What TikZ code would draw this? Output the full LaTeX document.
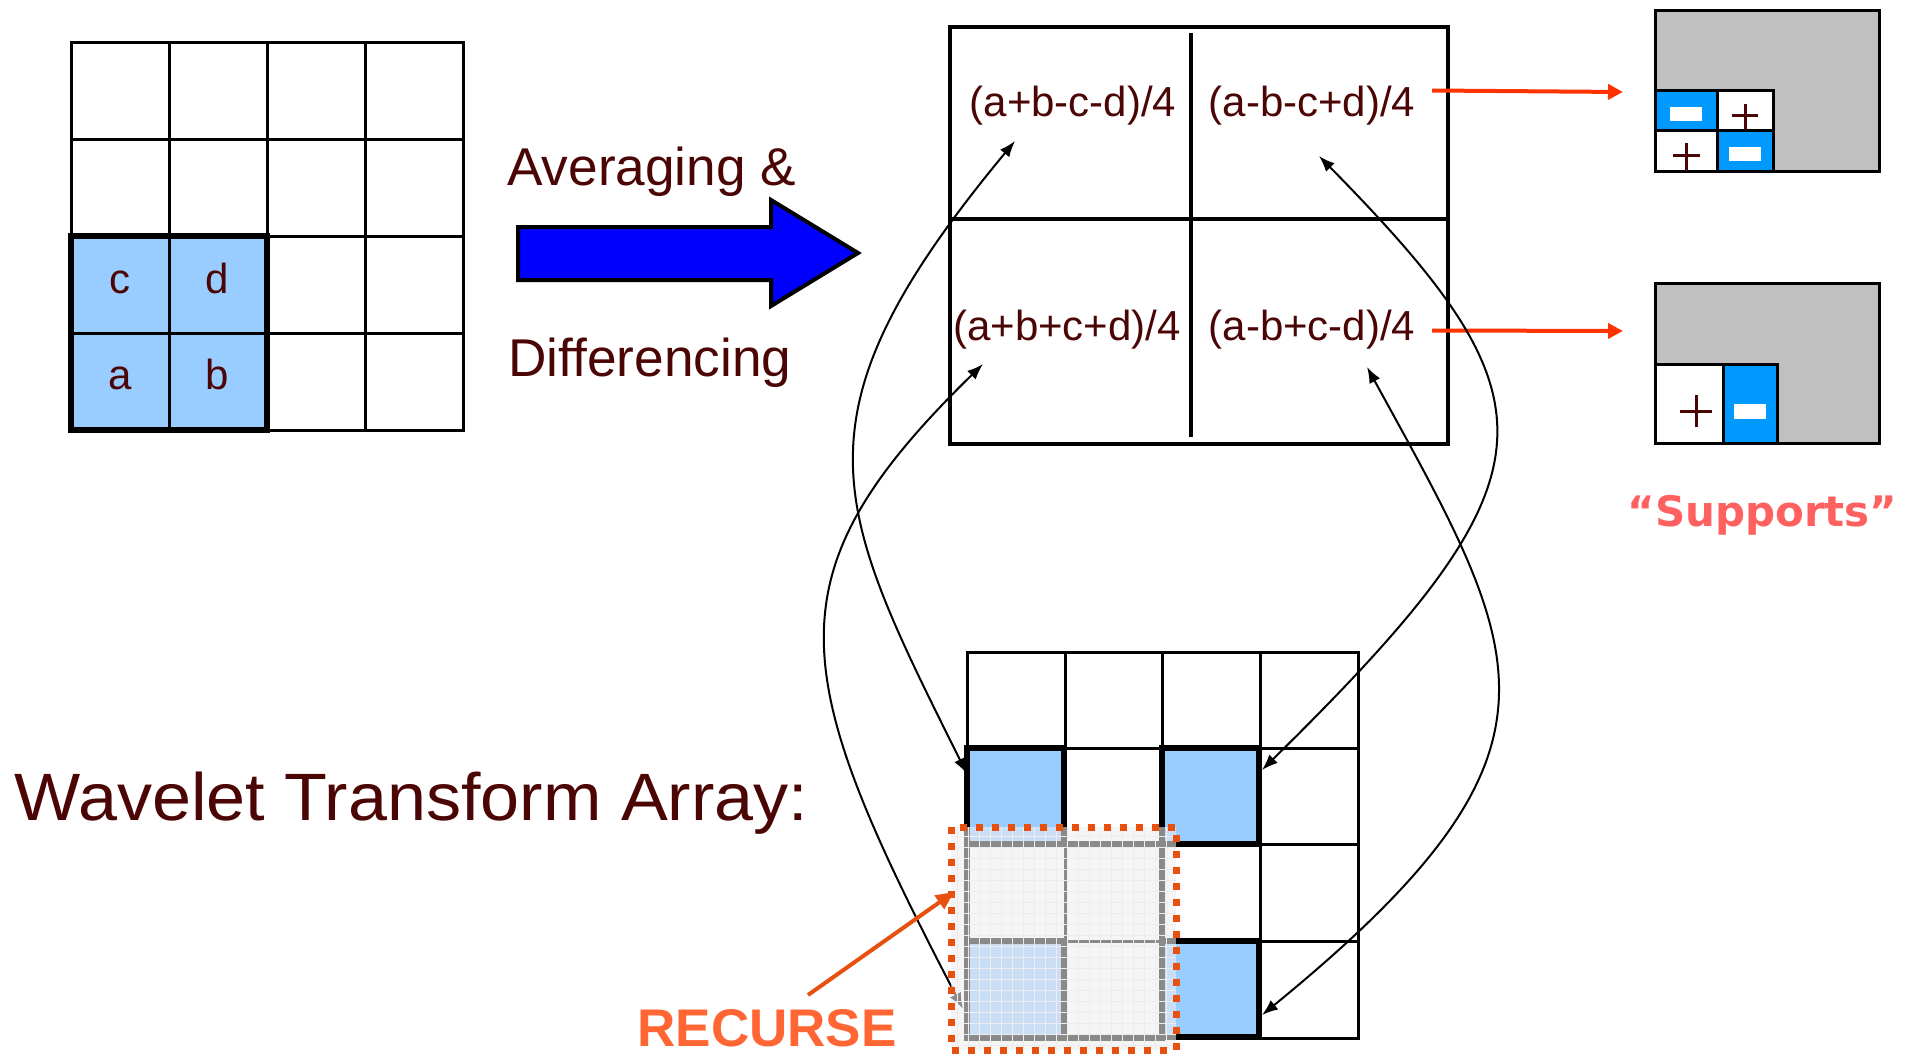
\documentclass[tikz,border=0pt]{standalone}
\usepackage{fontspec}
\setmainfont{Liberation Sans}
\newfontfamily\supfont{DejaVu Sans}
\usetikzlibrary{arrows.meta}

\definecolor{ink}{RGB}{75,5,5}
\definecolor{cellblue}{RGB}{153,204,255}
\definecolor{supblue}{RGB}{0,153,255}
\definecolor{supgray}{RGB}{192,192,192}
\definecolor{bigblue}{RGB}{0,0,255}
\definecolor{linkred}{RGB}{255,51,0}
\definecolor{recorange}{RGB}{232,80,16}
\definecolor{rectext}{RGB}{255,102,51}
\definecolor{suptext}{RGB}{255,96,96}
\definecolor{haze}{RGB}{238,238,238}

\begin{document}
\begin{tikzpicture}[x=0.5pt,y=-0.5pt,
  thinline/.style={line width=1.5pt,line cap=rect},
  blockline/.style={line width=3.2pt,line cap=rect},
  boxline/.style={line width=2pt},
  suprule/.style={line width=1.5pt},
  txt/.style={inner sep=0pt,text=ink,font=\fontsize{21pt}{25pt}\selectfont},
  bigtxt/.style={inner sep=0pt,text=ink,font=\fontsize{26.6pt}{31pt}\selectfont},
  link/.style={line width=1pt,{Latex[length=8pt,width=6pt]}-{Latex[length=8pt,width=6pt]}},
  feed/.style={linkred,line width=2pt,-{Triangle[length=7.5pt,width=7.5pt]}},
  plusmark/.style={ink,line width=1.5pt},
  minusbar/.style={fill=white}]

\useasboundingbox (0,0) rectangle (1906,1054);
\fill[white] (0,0) rectangle (1906,1054);

% ---------- source 4x4 array ----------
\fill[cellblue] (71,236) rectangle (267,430);
\foreach \x in {71,169,267,365,463} \draw[thinline] (\x,43) -- (\x,430);
\foreach \y in {43,140,236,333,430} \draw[thinline] (71,\y) -- (463,\y);
\draw[blockline] (71,236) rectangle (267,430);
\node[txt,anchor=base] (lc) at (120,293) {c};
\node[txt,anchor=base] (ld) at (217,293) {d};
\node[txt,anchor=base] (la) at (120,389) {a};
\node[txt,anchor=base] (lb) at (217,389) {b};

% ---------- transform arrow ----------
\node[bigtxt,anchor=base west] (avg) at (507,185) {Averaging \&};
\node[bigtxt,anchor=base west] (dif) at (508,376) {Differencing};
\draw[line width=2pt,fill=bigblue,line join=miter]
  (518,227) -- (771,227) -- (771,200) -- (858,253) -- (771,306) -- (771,280) -- (518,280) -- cycle;

% ---------- coefficient box ----------
\draw[boxline] (950,27) rectangle (1448,444);
\draw[boxline] (950,219) -- (1448,219);
\draw[boxline] (1191,33) -- (1191,437);
\node[txt,anchor=base] (tl) at (1073,117) {(a+b-c-d)/4};
\node[txt,anchor=base] (tr) at (1312,117) {(a-b-c+d)/4};
\node[txt,anchor=base] (bl) at (1067,340) {(a+b+c+d)/4};
\node[txt,anchor=base] (br) at (1312,340) {(a-b+c-d)/4};

% ---------- supports ----------
\draw[suprule,fill=supgray] (1655,11) rectangle (1879,171);
\draw[suprule,fill=supblue] (1655,91) rectangle (1717,131);
\draw[suprule,fill=white] (1717,91) rectangle (1773,131);
\draw[suprule,fill=white] (1655,131) rectangle (1717,171);
\draw[suprule,fill=supblue] (1717,131) rectangle (1773,171);
\fill[minusbar] (1670,107) rectangle (1702,121);
\fill[minusbar] (1729,147) rectangle (1761,161);
\draw[plusmark] (1732,116) -- (1758,116) (1745,104) -- (1745,130);
\draw[plusmark] (1673,156) -- (1700,156) (1686,143) -- (1686,171);

\draw[suprule,fill=supgray] (1655,283) rectangle (1879,443);
\draw[suprule,fill=white] (1655,364) rectangle (1723,443);
\draw[suprule,fill=supblue] (1723,364) rectangle (1777,443);
\fill[minusbar] (1734,404) rectangle (1766,419);
\draw[plusmark] (1680,411) -- (1712,411) (1696,395) -- (1696,427);

\node[inner sep=0pt,anchor=base west,text=suptext,
      font=\supfont\bfseries\fontsize{21pt}{25pt}\selectfont] (sup) at (1627,526) {“Supports”};

\coordinate (trout) at (1432,90.5);
\coordinate (supA) at (1623,92);
\coordinate (brout) at (1432,330.5);
\coordinate (supB) at (1623,331);
\draw[feed] (trout) -- (supA);
\draw[feed] (brout) -- (supB);

% ---------- wavelet transform array ----------
\node[inner sep=0pt,anchor=base west,text=ink,
      font=\fontsize{33.5pt}{40pt}\selectfont] (wta) at (14,820) {\scalebox{1.047}[1]{Wavelet Transform Array:}};

\foreach \c/\r in {967/748,1162/748,1162/941,967/941}
  \fill[cellblue] (\c,\r) rectangle ++(97,96);
\foreach \x in {967,1065,1162,1260,1358} \draw[thinline] (\x,652) -- (\x,1038);
\foreach \y in {652,748,844,941,1038} \draw[thinline] (967,\y) -- (1358,\y);
\foreach \c/\r in {967/748,1162/748,1162/941,967/941}
  \draw[blockline] (\c,\r) rectangle ++(97,96);
\draw[blockline] (967,844) rectangle (1162,1038);

% arrows tying each coefficient to its slot
\coordinate (tlin) at (1015,141);
\coordinate (blin) at (983,364);
\coordinate (trin) at (1319,156);
\coordinate (brin) at (1367,367);
\coordinate (slotTL) at (967,774);
\coordinate (slotBL) at (963,1009);
\coordinate (slotTR) at (1262,770);
\coordinate (slotBR) at (1262,1015);
\draw[link] (tlin) .. controls (786,417) and (833,505) .. (slotTL);
\draw[link] (blin) .. controls (766,576) and (788,673) .. (slotBL);
\draw[link] (trin) .. controls (1562,403) and (1562,475) .. (slotTR);
\draw[link] (brin) .. controls (1526,657) and (1588,749) .. (slotBR);

% recursion region
\fill[haze,opacity=0.58] (951,827) rectangle (1176,1050);
\begin{scope}
  \clip (951,827) rectangle (1176,1050);
  \draw[line width=0.5pt,black!7,step=5.5pt] (940,820) grid (1190,1060);
\end{scope}
\draw[recorange,line width=3.5pt,dash pattern=on 3.5pt off 4.5pt] (951,827) rectangle (1176,1050);

\node[inner sep=0pt,anchor=base west,text=rectext,
      font=\bfseries\fontsize{26.5pt}{31pt}\selectfont] (rec) at (637,1046) {RECURSE};
\coordinate (recfrom) at (808,995);
\coordinate (recto) at (954,892);
\draw[recorange,line width=2pt,-{Triangle[length=9pt,width=8pt]}] (recfrom) -- (recto);

\end{tikzpicture}
\end{document}
